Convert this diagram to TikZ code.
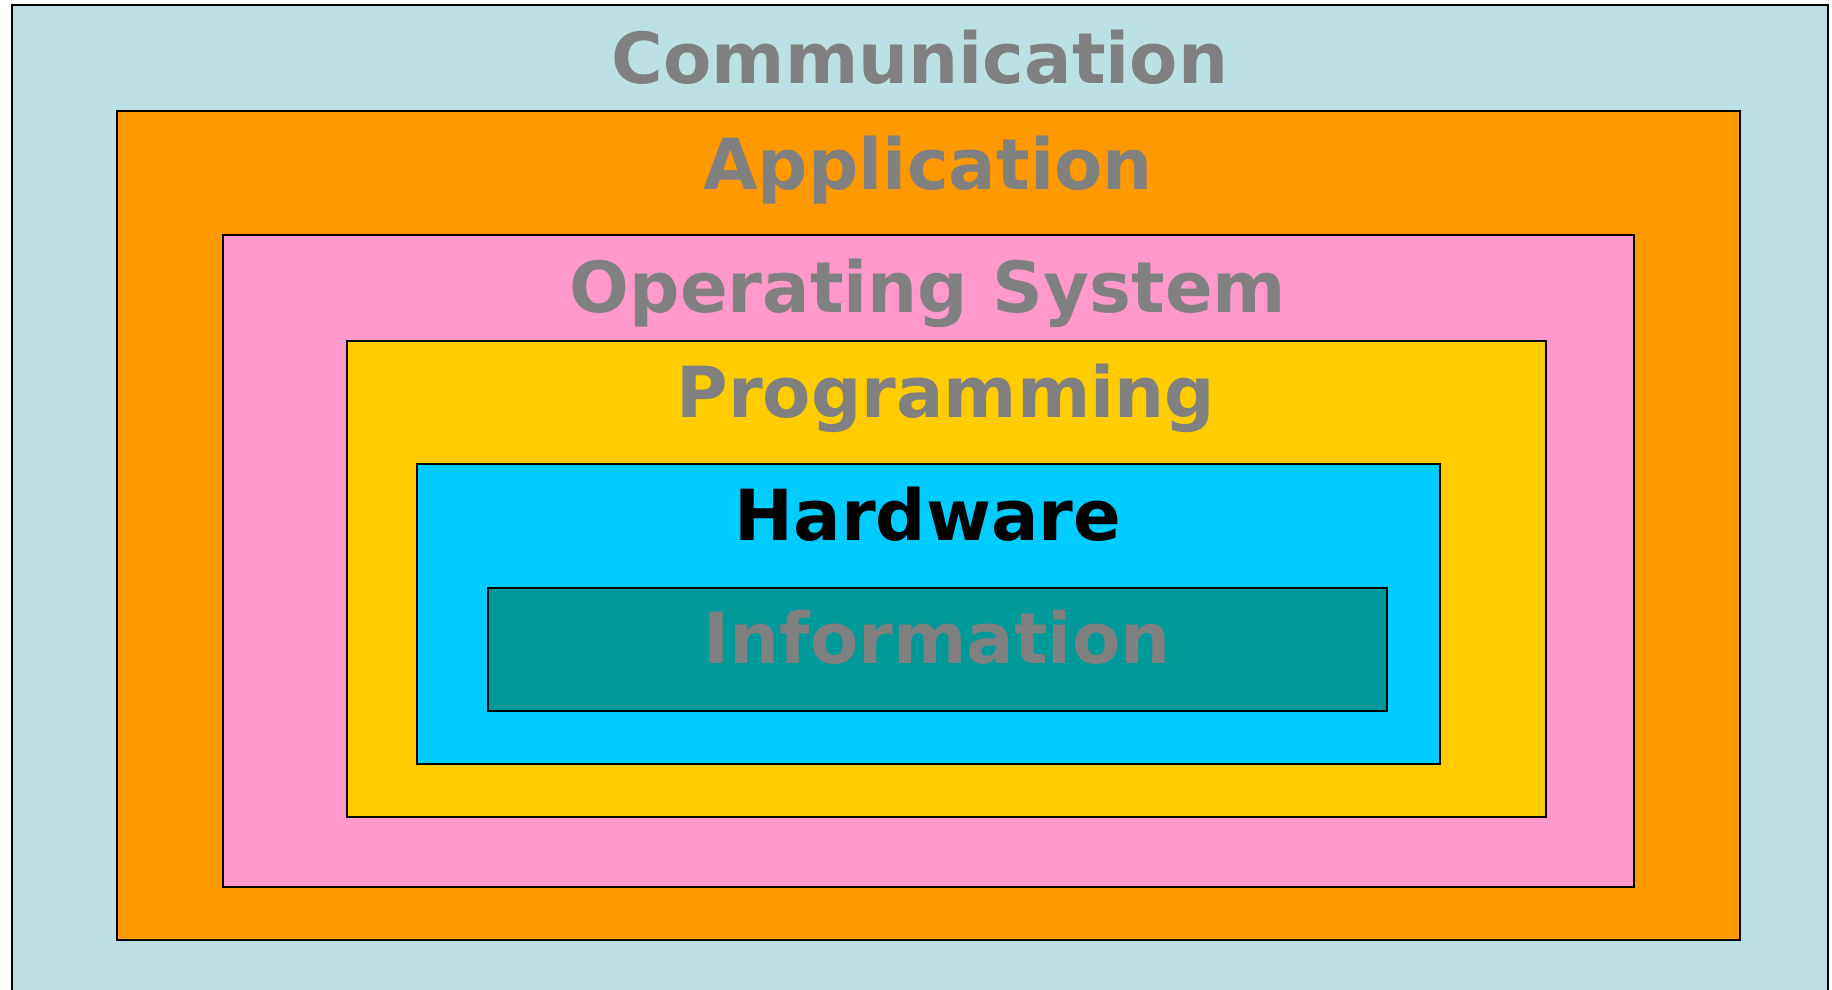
\documentclass[tikz,border=0pt]{standalone}
\usepackage{fontspec}
\setmainfont{DejaVu Sans}
\definecolor{commc}{RGB}{188,224,227}
\definecolor{appc}{RGB}{255,153,0}
\definecolor{osc}{RGB}{255,153,204}
\definecolor{progc}{RGB}{255,204,0}
\definecolor{hwc}{RGB}{0,204,255}
\definecolor{infoc}{RGB}{0,153,153}
\definecolor{labgray}{RGB}{128,128,128}
\tikzset{
  layer/.style={draw=black, line width=2pt},
  lab/.style={anchor=base, inner sep=0pt, font=\fontsize{70.4}{80}\selectfont\bfseries, text=labgray}
}
\begin{document}
\begin{tikzpicture}[x=1pt,y=-1pt]
\useasboundingbox (0,0) rectangle (1832,990);
\clip (0,0) rectangle (1832,990);
\fill[white] (0,0) rectangle (1832,990);
\draw[layer, fill=commc] (11.5,5) rectangle (1827.5,1010);
\draw[layer, fill=appc] (117,111) rectangle (1739.5,940);
\draw[layer, fill=osc] (223,234.5) rectangle (1634,887);
\draw[layer, fill=progc] (346.5,341) rectangle (1545.5,817);
\draw[layer, fill=hwc] (417,464) rectangle (1440,764);
\draw[layer, fill=infoc] (487.5,588) rectangle (1387,711);
\node[lab] (comm) at (920,84) {Communication};
\node[lab] (app) at (928,189) {Application};
\node[lab] (os) at (928,312) {Operating System};
\node[lab] (prog) at (946,417) {Programming};
\node[lab, text=black] (hw) at (928,540) {Hardware};
\node[lab] (info) at (937,663) {Information};
\end{tikzpicture}
\end{document}
